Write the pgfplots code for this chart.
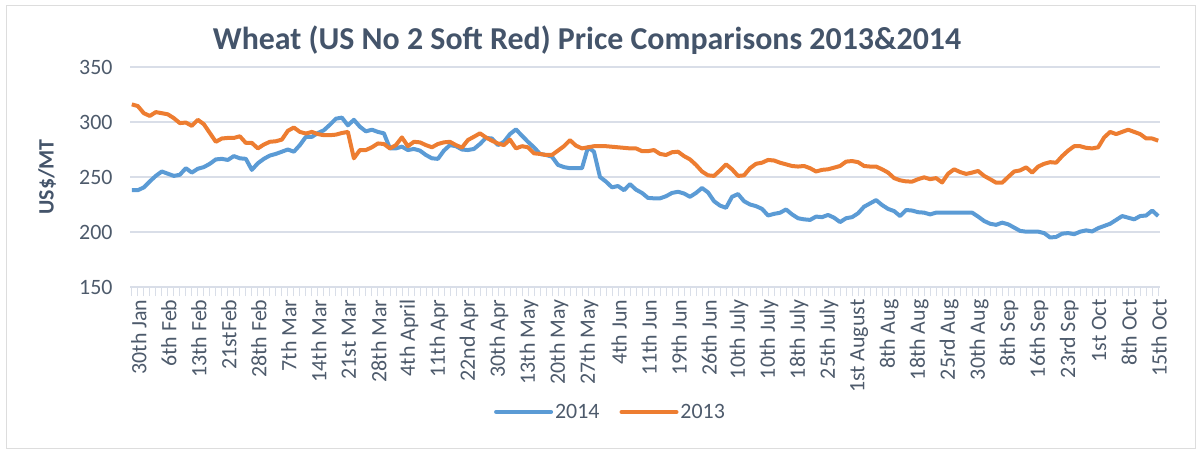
\documentclass[border=0pt]{standalone}
\usepackage{fontspec}
\setmainfont{Carlito}
\usepackage{pgfplots}
\pgfplotsset{compat=1.18}
\usepackage{pgfplotstable}
\definecolor{blue14}{HTML}{5B9BD5}
\definecolor{orange13}{HTML}{ED7D31}
\definecolor{titlecol}{HTML}{44546A}
\definecolor{tickcol}{HTML}{4D5A6B}
\definecolor{gridcol}{HTML}{D9DEE8}
\definecolor{bordercol}{HTML}{DDDDDD}
\pgfplotstableread{
i y14 y13
0 238 316
1 238 314.5
2 240.5 308
3 246 305.5
4 251 309
5 255 308
6 253 307
7 251 303.5
8 252 299
9 258 299.5
10 254 296.5
11 257.5 302
12 259 298
13 262 290
14 266 282
15 266.5 285
16 265.5 285.5
17 269 285.5
18 267 287
19 266.5 281
20 256.5 281
21 262.5 276
22 266.5 279.5
23 269.5 282
24 271 282.5
25 273 284
26 275 292
27 273 295
28 279 291
29 286.5 289.5
30 286.5 291
31 290 289
32 292.5 288
33 297.5 288
34 303 288.5
35 304 290
36 297 291
37 302 267
38 295.7 274.5
39 291.5 274.5
40 293 277
41 291 280.5
42 289.7 280
43 276 276
44 276 279
45 277.6 286
46 274.5 278
47 275.5 282
48 274 281.5
49 270 279
50 267 277
51 266.5 280
52 274 281.5
53 279 282
54 278 279
55 275 276.7
56 274.5 283.6
57 275.5 286.6
58 280 289.7
59 285.5 286
60 285 283
61 279 280.5
62 282 279
63 289 284
64 293.3 276
65 287.5 278
66 282 277
67 277 271.5
68 271 271
69 270 270
70 268.5 270
71 261 274
72 259 278
73 258 283.5
74 258 278.5
75 258 276
76 277 277
77 273 278
78 250 278
79 245.8 278
80 240.6 277.5
81 241.8 277
82 238 276.5
83 243.5 276
84 238.5 276
85 235.5 273.5
86 231 273.5
87 230.6 274.5
88 230.6 271
89 232.5 270
90 235.5 272.5
91 236.6 273
92 235 269
93 232 266
94 235.5 261
95 240 255
96 236 251.5
97 228 251
98 224 256
99 222 261.5
100 232 257
101 234.5 251
102 228 251.5
103 225 258
104 223.5 262
105 221 263
106 215 265.5
107 216.5 265
108 217.5 263
109 220.5 261.5
110 216 260
111 212.5 259.5
112 211.5 260
113 211 258
114 214 255
115 213.5 256.5
116 215.5 257
117 213 258.5
118 209 260
119 212.5 264
120 213.5 264.5
121 217 263.5
122 223 260
123 226 259.5
124 229 259.5
125 224.5 257
126 221 254
127 219 249
128 214.5 247
129 220 246
130 219.5 245.8
131 218 248
132 217.6 249.7
133 216 248
134 217.6 249
135 217.6 245
136 217.6 253
137 217.6 257
138 217.6 254.5
139 217.6 252.8
140 217.6 254
141 214 255.5
142 210 251
143 207.5 248
144 206.5 244.8
145 208.5 244.8
146 207 250
147 204 255
148 201 256
149 200.3 258.8
150 200.3 254
151 200.3 259.5
152 199 262
153 195 263.5
154 195.5 263
155 198.5 269
156 199 274
157 198 278
158 200.3 278
159 201.5 276.5
160 200.5 276
161 203.5 277
162 205.5 286
163 207.5 291
164 211 289
165 214.5 291
166 213 293
167 211.5 291
168 214.5 289
169 215 285
170 219.5 285
171 214.5 283
}\wheat
\begin{document}
\begin{tikzpicture}
\useasboundingbox (0,0) rectangle (1201bp,450bp);
\draw[bordercol, line width=1bp] (6.5bp,1.5bp) rectangle (1195bp,444.5bp);
\node[font=\fontsize{32}{36}\selectfont\bfseries, text=titlecol] at (587bp,410bp)
  {Wheat (US No 2 Soft Red) Price Comparisons 2013\&2014};
\begin{axis}[
  at={(130bp,163bp)}, anchor=south west,
  width=1030bp, height=220bp, scale only axis,
  xmin=-0.3, xmax=171.3, ymin=150, ymax=350,
  ytick={150,200,...,350},
  xtick={0,5,...,170},
  minor xtick={0,...,171},
  xticklabels={30th Jan,6th Feb,13th Feb,21stFeb,28th Feb,7th Mar,14th Mar,21st Mar,28th Mar,4th April,11th Apr,22nd Apr,30th Apr,13th May,20th May,27th May,4th Jun,11th Jun,19th Jun,26th Jun,10th July,10th July,18th July,25th July,1st August,8th Aug,18th Aug,25rd Aug,30th Aug,8th Sep,16th Sep,23rd Sep,1st Oct,8th Oct,15th Oct},
  axis x line*=bottom, axis y line*=left,
  y axis line style={draw=none},
  x axis line style={draw=gridcol, line width=1.2bp},
  ytick style={draw=none},
  xtick style={draw=gridcol, line width=0.8bp},
  xtick align=outside,
  major tick length=9bp, minor tick length=9bp,
  ymajorgrids,
  grid style={draw=gridcol, line width=1.2bp},
  /pgf/number format/assume math mode=true,
  tick label style={font=\fontsize{22}{24}\selectfont, text=tickcol},
  xticklabel style={rotate=90, anchor=east, yshift=-7bp},
  yticklabel style={xshift=-14bp},
  ylabel={US\$/MT},
  ylabel style={font=\fontsize{22}{24}\selectfont\bfseries, text=titlecol, at={(axis description cs:-0.0806,0.50)}, anchor=center},
  legend columns=2,
  legend style={draw=none, fill=none, at={(0.4665,-0.568)}, anchor=center,
    font=\fontsize{22}{24}\selectfont, text=tickcol,
    /tikz/every even column/.append style={column sep=18bp}},
  legend image code/.code={\draw[#1, line width=4bp, line cap=round] (0bp,0bp) -- (55bp,0bp);},
]
\addplot[blue14, line width=4bp, line join=round] table[x=i, y=y14] {\wheat};
\addlegendentry{2014}
\addplot[orange13, line width=4bp, line join=round] table[x=i, y=y13] {\wheat};
\addlegendentry{2013}
\end{axis}
\end{tikzpicture}
\end{document}
